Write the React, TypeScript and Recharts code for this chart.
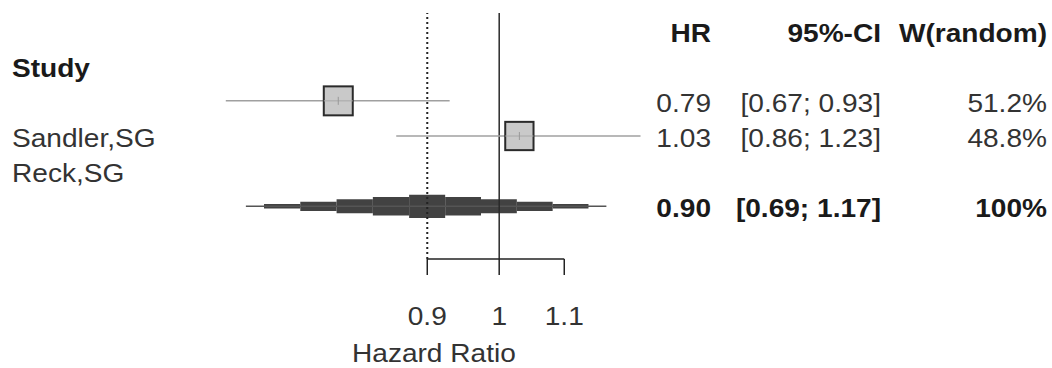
import React from 'react';
import {
  ScatterChart,
  Scatter,
  XAxis,
  YAxis,
  ErrorBar,
  ReferenceLine,
  ReferenceArea,
} from 'recharts';

// ---------- data ----------
const studies = ['Sandler,SG', 'Reck,SG'];
const hrValues = [0.79, 1.03];
const ciLower = [0.67, 0.86];
const ciUpper = [0.93, 1.23];
const weights = [51.2, 48.8];
const pooledHR = 0.9;
const pooledLower = 0.69;
const pooledUpper = 1.17;
const pooledWeight = 100;
const xTicks = [0.9, 1, 1.1];
const columnHeaders = ['HR', '95%-CI', 'W(random)'];
const studyHeader = 'Study';
const axisTitle = 'Hazard Ratio';

// ---------- layout / style ----------
const W = 1052;
const H = 368;
const FONT = '"Liberation Sans", Arial, sans-serif';
const FS = 26;
const SX = 1.08;
const LEFT_X = 12;
const HR_X = 711;
const CI_X = 881;
const W_X = 1047;
const HEADER_ROW = -1;
const STUDY_HEADER_ROW = 0;
const POOLED_ROW = 4;
const LABEL_ROW_SHIFT = 2; // labels appear one row lower than their markers in the reference
const DIAMOND_HALF = 0.33;

const fmt2 = (v: number) => v.toFixed(2);
const ciText = (lo: number, hi: number) => `[${fmt2(lo)}; ${fmt2(hi)}]`;

type TProps = {
  x: number;
  y: number;
  anchor?: 'start' | 'middle' | 'end';
  bold?: boolean;
  children: React.ReactNode;
};
const T = ({ x, y, anchor = 'start', bold = false, children }: TProps) => (
  <text
    transform={`translate(${x},${y}) scale(${SX},1)`}
    textAnchor={anchor}
    fontFamily={FONT}
    fontSize={FS}
    fontWeight={bold ? 700 : 400}
    fill={bold ? '#1a1a1a' : '#333333'}
  >
    {children}
  </text>
);

// table rows (text), drawn through the y scale
type Row = { x: number; y: number; left?: string; hr?: string; ci?: string; w?: string; bold?: boolean };
const tableRows: Row[] = [
  { x: 1, y: HEADER_ROW, hr: columnHeaders[0], ci: columnHeaders[1], w: columnHeaders[2], bold: true },
  { x: 1, y: STUDY_HEADER_ROW, left: studyHeader, bold: true },
  ...hrValues.map((v, i) => ({
    x: 1,
    y: i + 1,
    hr: fmt2(v),
    ci: ciText(ciLower[i], ciUpper[i]),
    w: `${weights[i]}%`,
  })),
  ...studies.map((s, i) => ({ x: 1, y: i + LABEL_ROW_SHIFT, left: s })),
  {
    x: 1,
    y: POOLED_ROW,
    hr: fmt2(pooledHR),
    ci: ciText(pooledLower, pooledUpper),
    w: `${pooledWeight}%`,
    bold: true,
  },
];

const studyPoints = hrValues.map((v, i) => ({
  x: v,
  y: i + 1,
  w: weights[i],
  err: [v - ciLower[i], ciUpper[i] - v],
}));

// stepped diamond for the pooled estimate
const dl = Math.log(pooledHR / pooledLower) / 5;
const dr = Math.log(pooledUpper / pooledHR) / 5;
const diamondSteps: { x1: number; x2: number; half: number }[] = [
  { x1: pooledHR * Math.exp(-0.5 * dl), x2: pooledHR * Math.exp(0.5 * dr), half: DIAMOND_HALF },
];
for (let k = 1; k <= 4; k++) {
  const half = DIAMOND_HALF * (1 - k / 5);
  diamondSteps.push({ x1: pooledHR * Math.exp(-(k + 0.5) * dl), x2: pooledHR * Math.exp(-(k - 0.5) * dl), half });
  diamondSteps.push({ x1: pooledHR * Math.exp((k - 0.5) * dr), x2: pooledHR * Math.exp((k + 0.5) * dr), half });
}

const TableRowShape = (props: any) => {
  const { cy, payload } = props;
  const b = cy + 11;
  const p = payload as Row;
  return (
    <g>
      {p.left && <T x={LEFT_X} y={b} bold={p.bold}>{p.left}</T>}
      {p.hr && <T x={HR_X} y={b} anchor="end" bold={p.bold}>{p.hr}</T>}
      {p.ci && <T x={CI_X} y={b} anchor="end" bold={p.bold}>{p.ci}</T>}
      {p.w && <T x={W_X} y={b} anchor="end" bold={p.bold}>{p.w}</T>}
    </g>
  );
};

const BoxShape = (props: any) => {
  const { cx, cy, payload } = props;
  const side = 4.05 * Math.sqrt(payload.w);
  return (
    <g>
      <rect x={cx - side / 2} y={cy - side / 2} width={side} height={side} fill="#c9c9c9" stroke="#2a2a2a" strokeWidth={2} />
      <line x1={cx - side / 2} x2={cx + side / 2} y1={cy} y2={cy} stroke="#a8a8a8" strokeWidth={1} />
      <line x1={cx} x2={cx} y1={cy - 4} y2={cy + 4} stroke="#999" strokeWidth={1} />
    </g>
  );
};

export default function App() {
  return (
    <div style={{ position: 'absolute', left: 0, top: 0, width: W, height: H, background: '#fff' }}>
      <ScatterChart width={W} height={H} margin={{ top: 13, right: 276, left: 26, bottom: 49 }}>
        <XAxis
          dataKey="x"
          type="number"
          scale="log"
          domain={[0.5, 1.5]}
          ticks={xTicks}
          axisLine={false}
          tickSize={16}
          tickMargin={30}
          height={60}
          tickLine={{ stroke: '#222', strokeWidth: 1.5 }}
          tick={(p: any) => (
            <T x={p.x} y={p.y + 20} anchor="middle">
              {String(p.payload.value)}
            </T>
          )}
          label={() => <T x={352} y={362}>{axisTitle}</T>}
        />
        <YAxis dataKey="y" type="number" domain={[-1.5, 5.5]} reversed hide />

        <ReferenceLine
          segment={[
            { x: pooledLower, y: POOLED_ROW },
            { x: pooledUpper, y: POOLED_ROW },
          ]}
          stroke="#555"
          strokeWidth={1.5}
        />
        {diamondSteps.map((s, i) => (
          <ReferenceArea
            key={i}
            x1={s.x1}
            x2={s.x2}
            y1={POOLED_ROW - s.half}
            y2={POOLED_ROW + s.half}
            fill="#424242"
            fillOpacity={1}
            stroke="none"
          />
        ))}
        <ReferenceLine x={pooledHR} stroke="#222" strokeWidth={2} strokeDasharray="2 3" />
        <ReferenceLine x={1} stroke="#2a2a2a" strokeWidth={1.5} />
        <ReferenceLine
          segment={[
            { x: xTicks[0], y: 5.5 },
            { x: xTicks[xTicks.length - 1], y: 5.5 },
          ]}
          stroke="#222"
          strokeWidth={1.5}
        />

        <Scatter data={studyPoints} shape={BoxShape} isAnimationActive={false}>
          <ErrorBar dataKey="err" direction="x" width={0} stroke="#a0a0a0" strokeWidth={1.5} isAnimationActive={false} />
        </Scatter>
        <Scatter data={tableRows} shape={TableRowShape} isAnimationActive={false} />
      </ScatterChart>
    </div>
  );
}
